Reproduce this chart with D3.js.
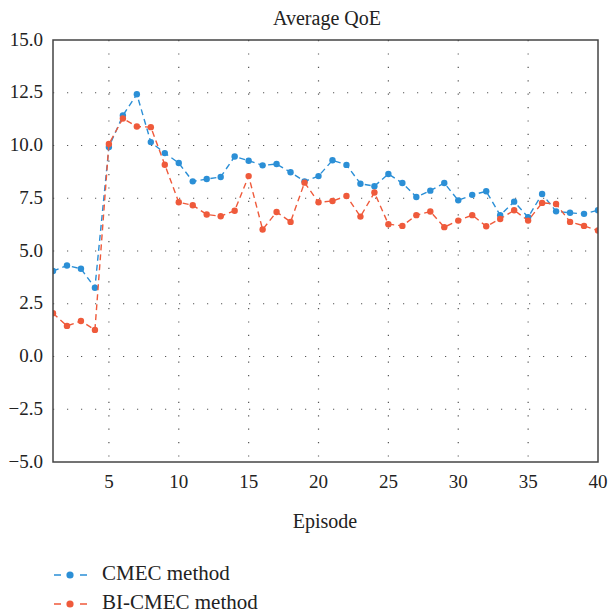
<html>
<head>
<meta charset="utf-8">
<script src="https://d3js.org/d3.v7.min.js"></script>
<style>
body { margin: 0; background: #fff; }
text { font-family: "Liberation Serif", "DejaVu Serif", serif; fill: #222; }
</style>
</head>
<body>
<svg id="chart" width="609" height="613"></svg>
<script>
// data
var episodes = d3.range(1, 41);
var cmec = [4.05, 4.31, 4.16, 3.26, 9.93, 11.42, 12.43, 10.16, 9.64, 9.17,
            8.30, 8.41, 8.51, 9.48, 9.28, 9.06, 9.12, 8.73, 8.30, 8.55,
            9.30, 9.08, 8.19, 8.07, 8.65, 8.22, 7.56, 7.86, 8.22, 7.40,
            7.66, 7.83, 6.70, 7.34, 6.60, 7.70, 6.88, 6.81, 6.76, 6.93];
var bicmec = [2.05, 1.45, 1.68, 1.26, 10.07, 11.28, 10.90, 10.87, 9.09, 7.31,
              7.17, 6.73, 6.65, 6.91, 8.55, 6.02, 6.85, 6.38, 8.24, 7.31,
              7.37, 7.61, 6.63, 7.77, 6.27, 6.19, 6.70, 6.87, 6.13, 6.44,
              6.70, 6.17, 6.52, 6.93, 6.44, 7.28, 7.23, 6.38, 6.19, 5.97];
var xTicks = [5, 10, 15, 20, 25, 30, 35, 40];
var yTicks = [-5, -2.5, 0, 2.5, 5, 7.5, 10, 12.5, 15];
var seriesNames = ["CMEC method", "BI-CMEC method"];
var colors = ["#2b8fd6", "#ef5a3b"];

var pLeft = 53, pRight = 598, pTop = 40, pBottom = 462;

var x = d3.scaleLinear().domain([1, 40]).range([pLeft, pRight]);
var y = d3.scaleLinear().domain([-5, 15]).range([pBottom, pTop]);

var svg = d3.select("#chart");

svg.append("defs").append("clipPath").attr("id", "plotclip")
  .append("rect").attr("x", pLeft).attr("y", pTop)
  .attr("width", pRight - pLeft).attr("height", pBottom - pTop);

// dotted grid
var grid = svg.append("g");
grid.selectAll(".vg").data(xTicks.filter(function (d) { return d < 40; }))
  .enter().append("line")
  .attr("x1", function (d) { return x(d); }).attr("x2", function (d) { return x(d); })
  .attr("y1", pTop).attr("y2", pBottom)
  .attr("stroke", "#555").attr("stroke-width", 1.2)
  .attr("stroke-dasharray", "1.2,12.2");
grid.selectAll(".hg").data(yTicks.filter(function (d) { return d > -5 && d < 15; }))
  .enter().append("line")
  .attr("x1", pLeft).attr("x2", pRight)
  .attr("y1", function (d) { return y(d); }).attr("y2", function (d) { return y(d); })
  .attr("stroke", "#555").attr("stroke-width", 1.2)
  .attr("stroke-dasharray", "1.2,12.8");

// series
var series = [cmec, bicmec];
var plot = svg.append("g").attr("clip-path", "url(#plotclip)");
var line = d3.line()
  .x(function (d, i) { return x(episodes[i]); })
  .y(function (d) { return y(d); });

series.forEach(function (vals, k) {
  plot.append("path").datum(vals)
    .attr("d", line)
    .attr("fill", "none")
    .attr("stroke", colors[k])
    .attr("stroke-width", 1.4)
    .attr("stroke-dasharray", "6,4");
  plot.selectAll(".dot" + k).data(vals).enter().append("circle")
    .attr("cx", function (d, i) { return x(episodes[i]); })
    .attr("cy", function (d) { return y(d); })
    .attr("r", 3.2)
    .attr("fill", colors[k]);
});

// frame
svg.append("rect").attr("x", pLeft).attr("y", pTop)
  .attr("width", pRight - pLeft).attr("height", pBottom - pTop)
  .attr("fill", "none").attr("stroke", "#444").attr("stroke-width", 1.5);

// axes labels
var fmt = d3.format(".1f");
svg.append("g").selectAll("text").data(yTicks).enter().append("text")
  .attr("x", pLeft - 10).attr("y", function (d) { return y(d) + 5.5; })
  .attr("text-anchor", "end").attr("font-size", 19)
  .text(function (d) { return fmt(d).replace("-", "\u2212"); });

svg.append("g").selectAll("text").data(xTicks).enter().append("text")
  .attr("x", function (d) { return x(d); }).attr("y", 488)
  .attr("text-anchor", "middle").attr("font-size", 19)
  .text(function (d) { return d; });

svg.append("text").attr("x", 327).attr("y", 25)
  .attr("text-anchor", "middle").attr("font-size", 20).text("Average QoE");
svg.append("text").attr("x", 325).attr("y", 528)
  .attr("text-anchor", "middle").attr("font-size", 20).text("Episode");

// legend
var leg = svg.append("g");
seriesNames.forEach(function (name, k) {
  var ly = 575 + k * 29;
  leg.append("line").attr("x1", 54).attr("x2", 88).attr("y1", ly).attr("y2", ly)
    .attr("stroke", colors[k]).attr("stroke-width", 1.4).attr("stroke-dasharray", "7,19");
  leg.append("circle").attr("cx", 70).attr("cy", ly).attr("r", 3.6).attr("fill", colors[k]);
  leg.append("text").attr("x", 102).attr("y", ly + 5).attr("font-size", 21).text(name);
});
</script>
</body>
</html>
